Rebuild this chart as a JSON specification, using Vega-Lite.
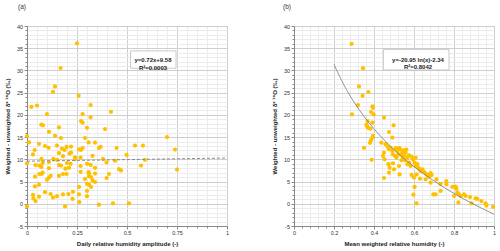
{
  "$schema": "https://vega.github.io/schema/vega-lite/v6.json",
  "padding": {"left": 3, "top": 3, "right": 4, "bottom": 2},
  "spacing": 40,
  "config": {
    "font": "Liberation Sans",
    "view": {"stroke": "#9a9a9a", "strokeWidth": 1},
    "axis": {
      "labelFont": "Liberation Sans", "labelFontSize": 5.5, "labelColor": "#333",
      "titleFont": "Liberation Sans", "titleFontSize": 6, "titleFontWeight": "bold", "titleColor": "#222",
      "domainColor": "#888", "tickColor": "#888", "labelOverlap": false, "labelFlush": false,
      "labelPadding": 1.5
    },
    "title": {"font": "Liberation Sans", "fontSize": 6.5, "fontWeight": "normal", "color": "#333", "anchor": "start", "frame": "group"}
  },
  "datasets": {
    "a": [
      {"x":0,"y":15.25},{"x":0.01,"y":13.8},{"x":0,"y":9.1},{"x":0,"y":-0.6},{"x":0.022,"y":21.8},{"x":0.05,"y":22.1},
      {"x":0.03,"y":11.1},{"x":0.03,"y":2.0},{"x":0.032,"y":1.2},{"x":0.042,"y":0.6},{"x":0.038,"y":12.1},{"x":0.042,"y":8.7},
      {"x":0.04,"y":6.1},{"x":0.04,"y":3.9},{"x":0.06,"y":4.3},{"x":0.06,"y":1.6},{"x":0.06,"y":13.5},{"x":0.062,"y":8.6},
      {"x":0.062,"y":6.7},{"x":0.072,"y":10.1},{"x":0.072,"y":17.8},{"x":0.08,"y":17.65},{"x":0.072,"y":8.3},{"x":0.078,"y":9.2},
      {"x":0.078,"y":7.0},{"x":0.073,"y":6.7},{"x":0.09,"y":2.6},{"x":0.09,"y":13.0},{"x":0.1,"y":20.2},{"x":0.1,"y":5.4},
      {"x":0.108,"y":12.6},{"x":0.11,"y":16.2},{"x":0.11,"y":5.9},{"x":0.11,"y":8.0},{"x":0.11,"y":9.4},{"x":0.118,"y":6.3},
      {"x":0.118,"y":2.2},{"x":0.13,"y":1.4},{"x":0.13,"y":25.2},{"x":0.132,"y":10.1},{"x":0.14,"y":26.4},{"x":0.14,"y":15.3},
      {"x":0.15,"y":13.1},{"x":0.15,"y":9.9},{"x":0.15,"y":1.7},{"x":0.16,"y":17.2},{"x":0.16,"y":11.4},{"x":0.16,"y":8.7},
      {"x":0.16,"y":6.3},{"x":0.168,"y":30.55},{"x":0.17,"y":14.8},{"x":0.17,"y":8.6},{"x":0.175,"y":12.4},{"x":0.18,"y":10.7},
      {"x":0.18,"y":6.7},{"x":0.18,"y":2.1},{"x":0.19,"y":-0.6},{"x":0.188,"y":12.1},{"x":0.192,"y":7.9},{"x":0.198,"y":12.8},
      {"x":0.198,"y":6.7},{"x":0.2,"y":9.2},{"x":0.207,"y":2.2},{"x":0.21,"y":8.1},{"x":0.213,"y":11.3},{"x":0.22,"y":11.5},
      {"x":0.22,"y":12.85},{"x":0.218,"y":9.0},{"x":0.228,"y":1.1},{"x":0.23,"y":2.7},{"x":0.24,"y":10.45},{"x":0.24,"y":10.0},
      {"x":0.25,"y":36.1},{"x":0.258,"y":24.3},{"x":0.26,"y":12.25},{"x":0.26,"y":3.8},{"x":0.26,"y":2.1},{"x":0.262,"y":0.4},
      {"x":0.27,"y":18.6},{"x":0.27,"y":12.1},{"x":0.268,"y":10.4},{"x":0.268,"y":8.5},{"x":0.268,"y":7.2},{"x":0.278,"y":18.25},
      {"x":0.278,"y":20.2},{"x":0.278,"y":12.55},{"x":0.29,"y":14.8},{"x":0.29,"y":5.6},{"x":0.3,"y":17.1},{"x":0.3,"y":9.0},
      {"x":0.3,"y":4.5},{"x":0.3,"y":2.9},{"x":0.3,"y":1.7},{"x":0.308,"y":13.8},{"x":0.308,"y":7.1},{"x":0.31,"y":6.8},
      {"x":0.31,"y":6.2},{"x":0.31,"y":4.3},{"x":0.318,"y":22.2},{"x":0.318,"y":19.45},{"x":0.318,"y":8.75},{"x":0.32,"y":6.0},
      {"x":0.32,"y":3.8},{"x":0.328,"y":10.8},{"x":0.328,"y":5.3},{"x":0.34,"y":13.75},{"x":0.34,"y":8.1},{"x":0.34,"y":6.8},
      {"x":0.34,"y":4.9},{"x":0.36,"y":12.55},{"x":0.368,"y":12.8},{"x":0.36,"y":-0.2},{"x":0.38,"y":10.1},{"x":0.39,"y":16.8},
      {"x":0.398,"y":9.3},{"x":0.398,"y":5.8},{"x":0.41,"y":6.7},{"x":0.42,"y":20.7},{"x":0.43,"y":0.1},{"x":0.44,"y":9.7},
      {"x":0.448,"y":12.55},{"x":0.46,"y":7.8},{"x":0.47,"y":7.5},{"x":0.498,"y":11.0},{"x":0.51,"y":0.1},{"x":0.54,"y":13.1},
      {"x":0.57,"y":8.6},{"x":0.58,"y":13.1},{"x":0.59,"y":9.9},{"x":0.7,"y":15.0},{"x":0.74,"y":12.2},{"x":0.75,"y":7.7}
    ],
    "b": [
      {"x":0.288,"y":36.0},{"x":0.345,"y":30.5},{"x":0.325,"y":26.4},{"x":0.372,"y":25.15},{"x":0.343,"y":24.3},{"x":0.32,"y":22.2},
      {"x":0.392,"y":21.9},{"x":0.395,"y":21.6},{"x":0.29,"y":20.1},{"x":0.385,"y":20.65},{"x":0.398,"y":20.1},{"x":0.45,"y":19.4},
      {"x":0.368,"y":18.6},{"x":0.392,"y":18.25},{"x":0.362,"y":17.8},{"x":0.365,"y":17.5},{"x":0.498,"y":17.65},{"x":0.37,"y":17.1},
      {"x":0.383,"y":16.9},{"x":0.475,"y":16.15},{"x":0.395,"y":15.3},{"x":0.392,"y":14.9},{"x":0.492,"y":14.9},{"x":0.385,"y":14.3},
      {"x":0.38,"y":13.7},{"x":0.35,"y":12.6},{"x":0.388,"y":9.9},{"x":0.437,"y":13.75},{"x":0.458,"y":13.4},{"x":0.45,"y":11.5},
      {"x":0.445,"y":10.75},{"x":0.453,"y":10.0},{"x":0.467,"y":12.85},{"x":0.475,"y":12.25},{"x":0.483,"y":12.6},{"x":0.492,"y":11.9},
      {"x":0.495,"y":11.1},{"x":0.508,"y":12.5},{"x":0.517,"y":11.9},{"x":0.525,"y":12.6},{"x":0.533,"y":12.25},{"x":0.542,"y":11.5},
      {"x":0.55,"y":12.0},{"x":0.558,"y":11.5},{"x":0.562,"y":12.2},{"x":0.505,"y":10.75},{"x":0.512,"y":10.4},{"x":0.472,"y":8.9},
      {"x":0.478,"y":8.1},{"x":0.475,"y":7.0},{"x":0.45,"y":5.8},{"x":0.5,"y":7.75},{"x":0.525,"y":8.5},{"x":0.528,"y":6.6},
      {"x":0.538,"y":9.8},{"x":0.545,"y":10.5},{"x":0.555,"y":9.8},{"x":0.567,"y":10.4},{"x":0.575,"y":9.25},{"x":0.583,"y":8.5},
      {"x":0.588,"y":10.6},{"x":0.595,"y":10.0},{"x":0.603,"y":9.25},{"x":0.608,"y":8.5},{"x":0.617,"y":8.9},{"x":0.622,"y":8.1},
      {"x":0.628,"y":7.75},{"x":0.633,"y":7.4},{"x":0.642,"y":7.75},{"x":0.65,"y":7.2},{"x":0.658,"y":6.8},{"x":0.667,"y":6.5},
      {"x":0.675,"y":6.1},{"x":0.683,"y":6.9},{"x":0.688,"y":6.5},{"x":0.613,"y":6.6},{"x":0.6,"y":5.9},{"x":0.588,"y":6.5},
      {"x":0.603,"y":3.8},{"x":0.597,"y":2.05},{"x":0.613,"y":0.1},{"x":0.63,"y":5.65},{"x":0.658,"y":5.5},{"x":0.683,"y":4.75},
      {"x":0.712,"y":5.5},{"x":0.733,"y":4.5},{"x":0.697,"y":2.1},{"x":0.708,"y":2.1},{"x":0.733,"y":2.9},{"x":0.762,"y":5.1},
      {"x":0.762,"y":4.4},{"x":0.792,"y":3.8},{"x":0.808,"y":3.85},{"x":0.812,"y":3.4},{"x":0.8,"y":1.75},{"x":0.817,"y":2.5},
      {"x":0.825,"y":2.1},{"x":0.833,"y":1.75},{"x":0.85,"y":2.1},{"x":0.858,"y":1.75},{"x":0.822,"y":0.3},{"x":0.88,"y":1.5},
      {"x":0.888,"y":0.1},{"x":0.908,"y":1.2},{"x":0.917,"y":1.1},{"x":0.937,"y":0.6},{"x":0.958,"y":0.1},{"x":0.962,"y":-0.4},
      {"x":0.995,"y":-0.7},{"x":0.55,"y":10.75},{"x":0.575,"y":10.9},{"x":0.608,"y":10.4},{"x":0.535,"y":11.05},{"x":0.522,"y":11.1},
      {"x":0.567,"y":8.9},{"x":0.495,"y":9.1}
    ],
    "fitA": [{"x":0,"y":9.58},{"x":1,"y":10.3}],
    "fitB": [
      {"x":0.2,"y":31.38},{"x":0.25,"y":26.70},{"x":0.3,"y":22.88},{"x":0.35,"y":19.65},{"x":0.4,"y":16.86},{"x":0.45,"y":14.39},
      {"x":0.5,"y":12.18},{"x":0.55,"y":10.18},{"x":0.6,"y":8.36},{"x":0.65,"y":6.69},{"x":0.7,"y":5.13},{"x":0.75,"y":3.69},
      {"x":0.8,"y":2.33},{"x":0.85,"y":1.06},{"x":0.9,"y":-0.13},{"x":0.95,"y":-1.27},{"x":1.0,"y":-2.34}
    ],
    "labA": [{"eq": "y=0.72x+9.58|R²=0.0003"}],
    "labB": [{"eq": "y=-20.95 ln(x)-2.34|R²=0.8042"}]
  },
  "hconcat": [
    {
      "width": 200, "height": 200,
      "title": {"text": "(a)", "dx": -9, "offset": 14},
      "layer": [
        {"data": {"name": "a"}, "mark": {"type": "point", "filled": true, "opacity": 1, "size": 18, "color": "#FFC000"},
          "encoding": {
            "x": {"field": "x", "type": "quantitative", "scale": {"domain": [0, 1], "nice": false},
              "axis": {"title": "Daily relative humidity amplitude (-)", "titlePadding": 4,
                "values": [0,0.05,0.1,0.15,0.2,0.25,0.3,0.35,0.4,0.45,0.5,0.55,0.6,0.65,0.7,0.75,0.8,0.85,0.9,0.95,1],
                "labelExpr": "abs(datum.value*4-round(datum.value*4))<1e-6 ? ''+datum.value : ''",
                "gridColor": {"condition": {"test": "abs(datum.value*4-round(datum.value*4))<1e-6", "value": "#cfcfcf"}, "value": "#ececec"},
                "tickSize": {"condition": {"test": "abs(datum.value*4-round(datum.value*4))<1e-6", "value": 3}, "value": 2}}},
            "y": {"field": "y", "type": "quantitative", "scale": {"domain": [-5, 40], "nice": false},
              "axis": {"title": "Weighted - unweighted δ* ¹⁸O (‰)", "titlePadding": 6,
                "values": [-5,-4,-3,-2,-1,0,1,2,3,4,5,6,7,8,9,10,11,12,13,14,15,16,17,18,19,20,21,22,23,24,25,26,27,28,29,30,31,32,33,34,35,36,37,38,39,40],
                "labelExpr": "datum.value % 5 === 0 ? ''+datum.value : ''",
                "gridColor": {"condition": {"test": "datum.value % 5 === 0", "value": "#cfcfcf"}, "value": "#ececec"},
                "tickSize": {"condition": {"test": "datum.value % 5 === 0", "value": 3}, "value": 2}}}
          }},
        {"data": {"name": "fitA"}, "mark": {"type": "line", "color": "#8c8c8c", "strokeWidth": 1, "strokeDash": [3, 2]},
          "encoding": {
            "x": {"field": "x", "type": "quantitative", "scale": {"domain": [0, 1], "nice": false},
              "axis": {"title": "Daily relative humidity amplitude (-)", "titlePadding": 4,
                "values": [0,0.05,0.1,0.15,0.2,0.25,0.3,0.35,0.4,0.45,0.5,0.55,0.6,0.65,0.7,0.75,0.8,0.85,0.9,0.95,1],
                "labelExpr": "abs(datum.value*4-round(datum.value*4))<1e-6 ? ''+datum.value : ''",
                "gridColor": {"condition": {"test": "abs(datum.value*4-round(datum.value*4))<1e-6", "value": "#cfcfcf"}, "value": "#ececec"},
                "tickSize": {"condition": {"test": "abs(datum.value*4-round(datum.value*4))<1e-6", "value": 3}, "value": 2}}},
            "y": {"field": "y", "type": "quantitative", "scale": {"domain": [-5, 40], "nice": false},
              "axis": {"title": "Weighted - unweighted δ* ¹⁸O (‰)", "titlePadding": 6,
                "values": [-5,-4,-3,-2,-1,0,1,2,3,4,5,6,7,8,9,10,11,12,13,14,15,16,17,18,19,20,21,22,23,24,25,26,27,28,29,30,31,32,33,34,35,36,37,38,39,40],
                "labelExpr": "datum.value % 5 === 0 ? ''+datum.value : ''",
                "gridColor": {"condition": {"test": "datum.value % 5 === 0", "value": "#cfcfcf"}, "value": "#ececec"},
                "tickSize": {"condition": {"test": "datum.value % 5 === 0", "value": 3}, "value": 2}}}
          }},
        {"data": {"name": "labA"}, "mark": {"type": "rect", "fill": "white", "stroke": "#bdbdbd", "strokeWidth": 0.8},
          "encoding": {
            "x": {"datum": 0.518, "type": "quantitative", "scale": {"domain": [0, 1], "nice": false},
              "axis": {"title": "Daily relative humidity amplitude (-)", "titlePadding": 4,
                "values": [0,0.05,0.1,0.15,0.2,0.25,0.3,0.35,0.4,0.45,0.5,0.55,0.6,0.65,0.7,0.75,0.8,0.85,0.9,0.95,1],
                "labelExpr": "abs(datum.value*4-round(datum.value*4))<1e-6 ? ''+datum.value : ''",
                "gridColor": {"condition": {"test": "abs(datum.value*4-round(datum.value*4))<1e-6", "value": "#cfcfcf"}, "value": "#ececec"},
                "tickSize": {"condition": {"test": "abs(datum.value*4-round(datum.value*4))<1e-6", "value": 3}, "value": 2}}},
            "x2": {"datum": 0.745},
            "y": {"datum": 34.4, "type": "quantitative", "scale": {"domain": [-5, 40], "nice": false},
              "axis": {"title": "Weighted - unweighted δ* ¹⁸O (‰)", "titlePadding": 6,
                "values": [-5,-4,-3,-2,-1,0,1,2,3,4,5,6,7,8,9,10,11,12,13,14,15,16,17,18,19,20,21,22,23,24,25,26,27,28,29,30,31,32,33,34,35,36,37,38,39,40],
                "labelExpr": "datum.value % 5 === 0 ? ''+datum.value : ''",
                "gridColor": {"condition": {"test": "datum.value % 5 === 0", "value": "#cfcfcf"}, "value": "#ececec"},
                "tickSize": {"condition": {"test": "datum.value % 5 === 0", "value": 3}, "value": 2}}},
            "y2": {"datum": 30.5}
          }},
        {"data": {"name": "labA"}, "transform": [{"calculate": "split(datum.eq, '|')", "as": "lines"}],
          "mark": {"type": "text", "fontSize": 6, "fontWeight": "bold", "color": "#222", "align": "center", "baseline": "middle", "lineHeight": 7.3},
          "encoding": {
            "x": {"datum": 0.63, "type": "quantitative", "scale": {"domain": [0, 1], "nice": false},
              "axis": {"title": "Daily relative humidity amplitude (-)", "titlePadding": 4,
                "values": [0,0.05,0.1,0.15,0.2,0.25,0.3,0.35,0.4,0.45,0.5,0.55,0.6,0.65,0.7,0.75,0.8,0.85,0.9,0.95,1],
                "labelExpr": "abs(datum.value*4-round(datum.value*4))<1e-6 ? ''+datum.value : ''",
                "gridColor": {"condition": {"test": "abs(datum.value*4-round(datum.value*4))<1e-6", "value": "#cfcfcf"}, "value": "#ececec"},
                "tickSize": {"condition": {"test": "abs(datum.value*4-round(datum.value*4))<1e-6", "value": 3}, "value": 2}}},
            "y": {"datum": 32.3, "type": "quantitative", "scale": {"domain": [-5, 40], "nice": false},
              "axis": {"title": "Weighted - unweighted δ* ¹⁸O (‰)", "titlePadding": 6,
                "values": [-5,-4,-3,-2,-1,0,1,2,3,4,5,6,7,8,9,10,11,12,13,14,15,16,17,18,19,20,21,22,23,24,25,26,27,28,29,30,31,32,33,34,35,36,37,38,39,40],
                "labelExpr": "datum.value % 5 === 0 ? ''+datum.value : ''",
                "gridColor": {"condition": {"test": "datum.value % 5 === 0", "value": "#cfcfcf"}, "value": "#ececec"},
                "tickSize": {"condition": {"test": "datum.value % 5 === 0", "value": 3}, "value": 2}}},
            "text": {"field": "lines"}
          }}
      ]
    },
    {
      "width": 200, "height": 200,
      "title": {"text": "(b)", "dx": -11, "offset": 14},
      "layer": [
        {"data": {"name": "b"}, "mark": {"type": "point", "filled": true, "opacity": 1, "size": 18, "color": "#FFC000"},
          "encoding": {
            "x": {"field": "x", "type": "quantitative", "scale": {"domain": [0, 1], "nice": false},
              "axis": {"title": "Mean weighted relative humidity (-)", "titlePadding": 4,
                "values": [0,0.04,0.08,0.12,0.16,0.2,0.24,0.28,0.32,0.36,0.4,0.44,0.48,0.52,0.56,0.6,0.64,0.68,0.72,0.76,0.8,0.84,0.88,0.92,0.96,1],
                "labelExpr": "abs(datum.value*5-round(datum.value*5))<1e-6 ? ''+datum.value : ''",
                "gridColor": {"condition": {"test": "abs(datum.value*5-round(datum.value*5))<1e-6", "value": "#cfcfcf"}, "value": "#ececec"},
                "tickSize": {"condition": {"test": "abs(datum.value*5-round(datum.value*5))<1e-6", "value": 3}, "value": 2}}},
            "y": {"field": "y", "type": "quantitative", "scale": {"domain": [-5, 40], "nice": false},
              "axis": {"title": "Weighted - unweighted δ* ¹⁸O (‰)", "titlePadding": 6,
                "values": [-5,-4,-3,-2,-1,0,1,2,3,4,5,6,7,8,9,10,11,12,13,14,15,16,17,18,19,20,21,22,23,24,25,26,27,28,29,30,31,32,33,34,35,36,37,38,39,40],
                "labelExpr": "datum.value % 5 === 0 ? ''+datum.value : ''",
                "gridColor": {"condition": {"test": "datum.value % 5 === 0", "value": "#cfcfcf"}, "value": "#ececec"},
                "tickSize": {"condition": {"test": "datum.value % 5 === 0", "value": 3}, "value": 2}}}
          }},
        {"data": {"name": "fitB"}, "mark": {"type": "line", "color": "#7a7a7a", "strokeWidth": 0.8, "interpolate": "monotone"},
          "encoding": {
            "x": {"field": "x", "type": "quantitative", "scale": {"domain": [0, 1], "nice": false},
              "axis": {"title": "Mean weighted relative humidity (-)", "titlePadding": 4,
                "values": [0,0.04,0.08,0.12,0.16,0.2,0.24,0.28,0.32,0.36,0.4,0.44,0.48,0.52,0.56,0.6,0.64,0.68,0.72,0.76,0.8,0.84,0.88,0.92,0.96,1],
                "labelExpr": "abs(datum.value*5-round(datum.value*5))<1e-6 ? ''+datum.value : ''",
                "gridColor": {"condition": {"test": "abs(datum.value*5-round(datum.value*5))<1e-6", "value": "#cfcfcf"}, "value": "#ececec"},
                "tickSize": {"condition": {"test": "abs(datum.value*5-round(datum.value*5))<1e-6", "value": 3}, "value": 2}}},
            "y": {"field": "y", "type": "quantitative", "scale": {"domain": [-5, 40], "nice": false},
              "axis": {"title": "Weighted - unweighted δ* ¹⁸O (‰)", "titlePadding": 6,
                "values": [-5,-4,-3,-2,-1,0,1,2,3,4,5,6,7,8,9,10,11,12,13,14,15,16,17,18,19,20,21,22,23,24,25,26,27,28,29,30,31,32,33,34,35,36,37,38,39,40],
                "labelExpr": "datum.value % 5 === 0 ? ''+datum.value : ''",
                "gridColor": {"condition": {"test": "datum.value % 5 === 0", "value": "#cfcfcf"}, "value": "#ececec"},
                "tickSize": {"condition": {"test": "datum.value % 5 === 0", "value": 3}, "value": 2}}}
          }},
        {"data": {"name": "labB"}, "mark": {"type": "rect", "fill": "white", "stroke": "#bdbdbd", "strokeWidth": 0.8},
          "encoding": {
            "x": {"datum": 0.447, "type": "quantitative", "scale": {"domain": [0, 1], "nice": false},
              "axis": {"title": "Mean weighted relative humidity (-)", "titlePadding": 4,
                "values": [0,0.04,0.08,0.12,0.16,0.2,0.24,0.28,0.32,0.36,0.4,0.44,0.48,0.52,0.56,0.6,0.64,0.68,0.72,0.76,0.8,0.84,0.88,0.92,0.96,1],
                "labelExpr": "abs(datum.value*5-round(datum.value*5))<1e-6 ? ''+datum.value : ''",
                "gridColor": {"condition": {"test": "abs(datum.value*5-round(datum.value*5))<1e-6", "value": "#cfcfcf"}, "value": "#ececec"},
                "tickSize": {"condition": {"test": "abs(datum.value*5-round(datum.value*5))<1e-6", "value": 3}, "value": 2}}},
            "x2": {"datum": 0.775},
            "y": {"datum": 34.75, "type": "quantitative", "scale": {"domain": [-5, 40], "nice": false},
              "axis": {"title": "Weighted - unweighted δ* ¹⁸O (‰)", "titlePadding": 6,
                "values": [-5,-4,-3,-2,-1,0,1,2,3,4,5,6,7,8,9,10,11,12,13,14,15,16,17,18,19,20,21,22,23,24,25,26,27,28,29,30,31,32,33,34,35,36,37,38,39,40],
                "labelExpr": "datum.value % 5 === 0 ? ''+datum.value : ''",
                "gridColor": {"condition": {"test": "datum.value % 5 === 0", "value": "#cfcfcf"}, "value": "#ececec"},
                "tickSize": {"condition": {"test": "datum.value % 5 === 0", "value": 3}, "value": 2}}},
            "y2": {"datum": 30.1}
          }},
        {"data": {"name": "labB"}, "transform": [{"calculate": "split(datum.eq, '|')", "as": "lines"}],
          "mark": {"type": "text", "fontSize": 6, "fontWeight": "bold", "color": "#222", "align": "center", "baseline": "middle", "lineHeight": 7.3},
          "encoding": {
            "x": {"datum": 0.62, "type": "quantitative", "scale": {"domain": [0, 1], "nice": false},
              "axis": {"title": "Mean weighted relative humidity (-)", "titlePadding": 4,
                "values": [0,0.04,0.08,0.12,0.16,0.2,0.24,0.28,0.32,0.36,0.4,0.44,0.48,0.52,0.56,0.6,0.64,0.68,0.72,0.76,0.8,0.84,0.88,0.92,0.96,1],
                "labelExpr": "abs(datum.value*5-round(datum.value*5))<1e-6 ? ''+datum.value : ''",
                "gridColor": {"condition": {"test": "abs(datum.value*5-round(datum.value*5))<1e-6", "value": "#cfcfcf"}, "value": "#ececec"},
                "tickSize": {"condition": {"test": "abs(datum.value*5-round(datum.value*5))<1e-6", "value": 3}, "value": 2}}},
            "y": {"datum": 32.4, "type": "quantitative", "scale": {"domain": [-5, 40], "nice": false},
              "axis": {"title": "Weighted - unweighted δ* ¹⁸O (‰)", "titlePadding": 6,
                "values": [-5,-4,-3,-2,-1,0,1,2,3,4,5,6,7,8,9,10,11,12,13,14,15,16,17,18,19,20,21,22,23,24,25,26,27,28,29,30,31,32,33,34,35,36,37,38,39,40],
                "labelExpr": "datum.value % 5 === 0 ? ''+datum.value : ''",
                "gridColor": {"condition": {"test": "datum.value % 5 === 0", "value": "#cfcfcf"}, "value": "#ececec"},
                "tickSize": {"condition": {"test": "datum.value % 5 === 0", "value": 3}, "value": 2}}},
            "text": {"field": "lines"}
          }}
      ]
    }
  ]
}
